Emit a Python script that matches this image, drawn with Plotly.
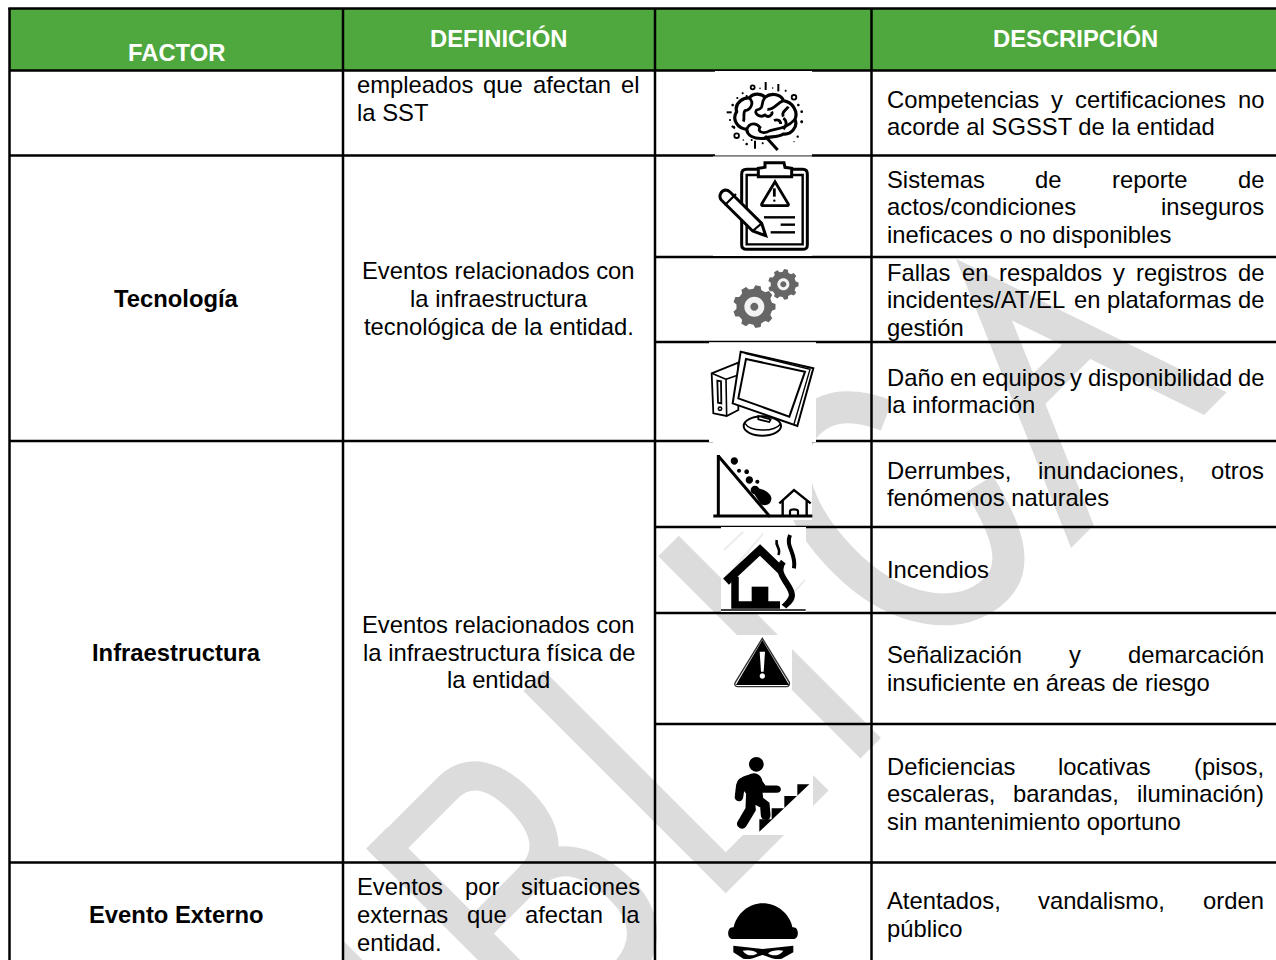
import math, re, unicodedata
import plotly.graph_objects as go

# ---------- table content ----------
HEADERS = ["FACTOR", "DEFINICIÓN", "DESCRIPCIÓN"]
FACTORS = ["Tecnología", "Infraestructura", "Evento Externo"]
DEF_CONT = ["empleados que afectan el", "la SST"]
DEF_TEC = ["Eventos relacionados con", "la infraestructura", "tecnológica de la entidad."]
DEF_INF = ["Eventos relacionados con", "la infraestructura física de", "la entidad"]
DEF_EXT = ["Eventos por situaciones", "externas que afectan la", "entidad."]
DESCRIPTIONS = [
    ["Competencias y certificaciones no", "acorde al SGSST de la entidad"],
    ["Sistemas de reporte de", "actos/condiciones inseguros", "ineficaces o no disponibles"],
    ["Fallas en respaldos y registros de", "incidentes/AT/EL en plataformas de", "gestión"],
    ["Daño en equipos y disponibilidad de", "la información"],
    ["Derrumbes, inundaciones, otros", "fenómenos naturales"],
    ["Incendios"],
    ["Señalización y demarcación", "insuficiente en áreas de riesgo"],
    ["Deficiencias locativas (pisos,", "escaleras, barandas, iluminación)", "sin mantenimiento oportuno"],
    ["Atentados, vandalismo, orden", "público"],
]

# ---------- layout constants ----------
W, H = 1276, 960
COLS = [9.5, 343, 655, 871.5]
ROWS_ALL = [70.5, 155.5, 441, 862.5]
ROWS_RIGHT = [257, 342, 527, 613, 724]
FS = 23.8
FONT = "Liberation Sans"
GREEN = "#4fa83d"
WM = "#dcdcdc"
DESC_Y = [[100, 127.5], [180, 207.5, 235], [273, 300.5, 328], [378, 405.5], [471, 498.5],
          [570], [655.5, 683], [767, 794.5, 822], [901, 929]]

shapes, notes = [], []

def add_path(d, color=None, fill=None, width=0):
    shapes.append(dict(type="path", path=d, xref="x", yref="y",
                       line=dict(color=color or "rgba(0,0,0,0)", width=width),
                       fillcolor=fill or "rgba(0,0,0,0)"))

def rect(x0, y0, x1, y1, fill):
    shapes.append(dict(type="rect", x0=x0, y0=y0, x1=x1, y1=y1, xref="x", yref="y",
                       line=dict(width=0), fillcolor=fill))

def hline(x0, x1, y, w=2.5):
    shapes.append(dict(type="line", x0=x0, x1=x1, y0=y, y1=y, xref="x", yref="y",
                       line=dict(color="black", width=w)))

def vline(x, y0, y1, w=2.5):
    shapes.append(dict(type="line", x0=x, x1=x, y0=y0, y1=y1, xref="x", yref="y",
                       line=dict(color="black", width=w)))

# ---------- watermark, in rotated letter coordinates (s along baseline, h above it) ----------
R2 = math.sqrt(2)
def wm(s, h):
    return (1619 - h * R2 + s * R2) / 2, (1619 - h * R2 - s * R2) / 2

def wm_path(txt):
    toks = re.findall(r"[MLCZ]|-?[\d.]+", txt)
    out, i = [], 0
    while i < len(toks):
        t = toks[i]
        if t in "MLCZ":
            out.append(t); i += 1
        else:
            x, y = wm(float(toks[i]), float(toks[i + 1]))
            out.append(f"{x:.1f},{y:.1f}"); i += 2
    return " ".join(out)

# stub of the letter before B
add_path(wm_path("M-437 286 L-437 0"), WM, width=29)
# B
add_path(wm_path("M-326 0 L-326 286"), WM, width=30)
add_path(wm_path("M-341 271 L-240 271 C-210 271 -198 245 -198 212 C-198 175 -212 150 -245 150 L-326 150"), WM, width=29)
add_path(wm_path("M-245 150 C-205 150 -190 115 -190 75 C-190 38 -212 15 -250 15 L-341 15"), WM, width=30)
# L
add_path(wm_path("M-104 286 L-104 14.5 L27 14.5"), WM, width=29)
# I
add_path(wm_path("M86.6 0 L86.6 286"), WM, width=29)
# C
add_path(wm_path("M333 224 C318 258 298 274 272 274 C228 274 200 220 200 150 C200 75 240 24 288 24 C322 24 338 60 350 110"), WM, width=32)
# A
add_path(wm_path("M370 0 L493 286 L590 0 L558 0 L517 120 L453.6 120 L402 0 Z M466.5 150 L489 202.6 L507 150 Z"), fill=WM)
# first column stays clean
rect(0, 70, COLS[1], H, "white")

# ---------- header ----------
rect(COLS[0], 8, W, 70.5, GREEN)

# ---------- icon masks over the table ----------
def icon_boxes():
    for b in [(715, 71, 812, 155.5), (713, 156.5, 812, 256), (709, 342, 816, 441.9), (713, 441, 812, 520),
              (721, 527, 806, 612), (735, 635, 792, 689), (733, 757, 813, 835)]:
        rect(*b, "white")

# ---------- grid ----------
hline(COLS[0] - 1.2, W, 8.5)
for x in COLS:
    vline(x, 8, H)
for y in ROWS_ALL:
    hline(COLS[0], W, y)
for y in ROWS_RIGHT:
    hline(COLS[2], W, y)
icon_boxes()
# thin remains of the lines on the edge of pasted icons
hline(709, 816, 341.7, 1)

# ---------- icons, drawn in crop coordinates ----------
def tp(d, ox, oy, k=1 / 3):
    toks = re.findall(r"[MLCQZ]|-?[\d.]+", d)
    out, i = [], 0
    while i < len(toks):
        t = toks[i]
        if t in "MLCQZ":
            out.append(t); i += 1
        else:
            out.append(f"{ox + float(toks[i]) * k:.2f},{oy + float(toks[i + 1]) * k:.2f}"); i += 2
    return " ".join(out)

def circ(cx, cy, r, ry=None):
    ry = r if ry is None else ry
    c = 0.5523
    return (f"M{cx - r} {cy} C{cx - r} {cy - c * ry} {cx - c * r} {cy - ry} {cx} {cy - ry} "
            f"C{cx + c * r} {cy - ry} {cx + r} {cy - c * ry} {cx + r} {cy} "
            f"C{cx + r} {cy + c * ry} {cx + c * r} {cy + ry} {cx} {cy + ry} "
            f"C{cx - c * r} {cy + ry} {cx - r} {cy + c * ry} {cx - r} {cy} Z")

O2 = (650, 60)
O3 = (650, 440)
def i2(d, color="black", fill=None, w=0): add_path(tp(d, *O2), color if w else None, fill, w)
def i3(d, color="black", fill=None, w=0): add_path(tp(d, *O3), color if w else None, fill, w)

# brain
i2("M345 235 C310 238 292 226 290 208 C262 205 245 178 260 155 C252 128 282 112 298 114 C310 98 335 100 345 112 C365 96 395 104 400 122 C428 126 445 155 435 178 C445 202 422 225 400 222 C380 234 360 228 345 235 Z", w=3.2)
for seg in ["M345 112 C330 130 345 145 320 150 C310 160 330 175 345 165 C355 175 370 165 365 155",
            "M298 114 C315 130 300 150 285 152 C278 160 285 175 280 185",
            "M400 122 C380 130 372 150 352 148 M400 170 C392 155 410 150 415 140",
            "M290 208 C300 185 320 190 330 202 C320 218 345 222 360 212 C385 205 410 205 435 178",
            "M400 175 C412 182 410 198 400 208 M372 182 C382 176 392 182 392 192"]:
    i2(seg, w=2.8)
i2("M345 228 L383 270", w=3)
for cx, cy, r in [(290, 108, 3), (278, 100, 3), (262, 114, 3), (248, 135, 4), (455, 155, 4), (455, 185, 4.5),
                  (445, 135, 4), (443, 230, 3.5), (290, 252, 4), (338, 250, 3), (240, 180, 3), (407, 92, 3),
                  (368, 84, 2.5), (330, 85, 2.5), (252, 200, 3), (305, 240, 3), (280, 240, 2.5), (432, 245, 2)]:
    i2(circ(cx, cy, r), fill="black")
for cx, cy, r in [(308, 82, 6), (432, 112, 7), (260, 227, 7)]:
    i2(circ(cx, cy, r), w=1.8)
for d in ["M347 66 L347 90", "M385 72 L385 94", "M315 242 L315 266", "M230 157 L245 157", "M245 198 L255 205"]:
    i2(d, w=2)

# clipboard
i2("M290 328 L458 328 C468 328 472 332 472 342 L472 555 C472 565 468 568 458 568 L290 568 C280 568 275 565 275 555 L275 342 C275 332 280 328 290 328 Z", w=3)
i2("M290 345 L458 345 L458 553 L290 553 Z", w=2.4)
i2("M325 350 L325 325 L345 322 L345 308 L402 308 L405 322 L425 325 L425 350 Z", fill="white", w=3)
i2("M375 365 L415 432 C416 436 414 437 410 437 L340 437 C336 437 334 436 335 432 Z", w=2.8)
i2("M373 385 L373 410", w=2.8)
i2(circ(373, 422, 3.5), fill="black")
for d in ["M342 472 L435 472", "M392 494 L435 494", "M362 517 L435 517"]:
    i2(d, w=2.4)
i2("M240 396 L335 490 L347 527 L308 513 L214 420 C205 410 212 392 226 390 C232 390 236 392 240 396 Z", fill="white", w=3)
i2("M224 436 L258 402", w=2.2)
i2("M308 513 L335 490", w=2.2)

# gears
def gear(cx, cy, ro, ri, n):
    pts = []
    for t in range(n):
        a = 2 * math.pi * t / n
        step = 2 * math.pi / n
        for f, r in [(-0.32, ri), (-0.18, ro), (0.18, ro), (0.32, ri)]:
            pts.append((cx + r * math.cos(a + f * step), cy + r * math.sin(a + f * step)))
    return "M" + " L".join(f"{x:.1f} {y:.1f}" for x, y in pts) + " Z"
GREY = "#666666"
i2(gear(313, 740, 64, 54, 9), fill=GREY)
i2(circ(313, 740, 30), fill="#f2f2f2")
i2(circ(313, 740, 12), fill=GREY)
i2(gear(400, 673, 46, 38, 9), fill=GREY)
i2(circ(400, 673, 18), fill="#f2f2f2")
i2(circ(400, 673, 9), fill=GREY)

# monitor
i2("M185 940 L265 908 L265 1050 L230 1068 L190 1060 Z", fill="white", w=1.8)
i2("M185 940 L228 958 L230 1068", w=1.6)
i2("M228 958 L265 945", w=1.6)
i2("M202 962 L213 964 L214 1030 L204 1028 Z", w=1.8)
i2(circ(210, 1046, 5), w=1.6)
i2(circ(337, 1098, 56, 29), fill="white", w=2)
i2("M285 1090 C300 1115 370 1118 392 1092", w=1.4)
i2("M325 1068 L362 1078 L358 1086 L325 1078 Z", fill="white", w=1.8)
i2("M272 875 L490 925 L442 1098 L248 1030 Z", fill="white", w=2)
i2("M284 880 L480 928 L432 1092", w=1.4)
i2("M288 897 L465 935 L418 1070 L265 1015 Z", w=2)

# landslide
i3("M205 45 L205 228", w=3)
i3("M205 48 L360 230", w=3)
i3("M190 228 L487 228", w=3)
for cx, cy, r in [(253, 63, 11), (267, 92, 6), (290, 95, 7), (298, 120, 11), (322, 125, 6), (315, 150, 13)]:
    i3(circ(cx, cy, r), fill="black")
i3("M305 150 C330 135 368 160 364 178 C362 198 340 198 332 192 Z", fill="black")
i3("M388 190 L432 150 L482 190", w=2.4)
i3("M398 183 L398 228", w=2.4)
i3("M470 183 L470 228", w=2.4)
i3("M420 228 L420 214 C420 206 444 206 444 214 L444 228", w=2.2)

# fire
for d in ["M222 330 L280 275", "M222 420 L340 280", "M410 480 L465 420"]:
    i3(d, color="#ececec", w=2)
i3("M228 425 L330 330 L392 390", w=8.5)
i3("M255 410 L255 495 L390 495", w=7.5)
i3("M305 440 L355 440 L355 495 L305 495 Z", fill="black")
i3("M213 510 L467 510", w=1.6)
i3("M400 365 C372 400 420 430 425 460 C430 480 410 490 402 500", w=6)
i3("M420 285 C405 320 440 340 432 385", w=4)
i3("M380 300 C375 320 395 325 385 345", w=2.6)

# warning sign
i3("M337 595 L418 727 C420 735 414 740 410 740 L262 740 C256 740 252 733 256 727 Z", fill="white", w=1.4, color="#333333")
i3("M337 606 L412 732 L263 732 Z", fill="black", w=2)
i3("M329 635 L345 635 L341 695 L333 695 Z", fill="white")
i3(circ(337, 708, 8), fill="white")

# person on stairs
i3(circ(319, 973, 22), fill="black")
i3("M296 1008 C315 998 330 1005 334 1025 L345 1040 L380 1040 C392 1042 392 1054 380 1055 L340 1055 L332 1040 L336 1075 L355 1090 L358 1125 C358 1140 338 1140 336 1125 L334 1100 L312 1088 L314 1110 L285 1158 C276 1168 260 1158 266 1146 L290 1105 L292 1060 L280 1045 L276 1072 C272 1085 256 1080 258 1068 L262 1035 C264 1020 280 1012 296 1008 Z", fill="black", w=2.4)
i3("M328 1175 L328 1138 L365 1138 L365 1105 L403 1105 L403 1068 L442 1068 L442 1033 L478 1033 Z", fill="black")

# masked head
i3("M250 1466 C258 1420 298 1390 338 1390 C380 1390 420 1420 428 1466 Z", fill="black")
i3("M248 1462 L430 1462 C448 1462 448 1497 430 1497 L248 1497 C230 1497 230 1462 248 1462 Z", fill="black")
i3("M250 1517 L338 1527 L430 1517 L430 1537 L395 1556 C370 1562 345 1545 338 1545 C330 1545 305 1562 280 1556 L250 1537 Z", fill="black")
i3("M278 1532 C295 1528 315 1532 322 1540 C310 1550 288 1548 278 1532 Z", fill="white")
i3("M400 1532 C385 1528 362 1532 354 1540 C366 1550 390 1548 400 1532 Z", fill="white")

# ---------- text ----------
AFM = dict(zip("abcdefghijklmnopqrstuvwxyz",
               [556, 556, 500, 556, 556, 278, 556, 556, 222, 222, 500, 222, 833, 556, 556, 556, 556, 333, 500, 278, 556, 500, 722, 500, 500, 500]))
AFM.update(dict(zip("ABCDEFGHIJKLMNOPQRSTUVWXYZ",
                    [667, 667, 722, 722, 667, 611, 778, 722, 278, 500, 667, 556, 833, 722, 778, 667, 778, 722, 667, 611, 722, 667, 944, 667, 667, 611])))
AFM.update({",": 278, ".": 278, "/": 278, "(": 333, ")": 333, " ": 278})

def tw(txt):
    base = unicodedata.normalize("NFD", txt)
    return sum(AFM.get(c, 0) for c in base) * FS / 1000

def put(txt, x, y, anchor="left", color="black", bold=False):
    notes.append(dict(text=f"<b>{txt}</b>" if bold else txt, x=x, y=y - 1, xref="x", yref="y", xanchor=anchor, yanchor="middle",
                      showarrow=False, borderpad=0, borderwidth=0,
                      font=dict(family=FONT, size=FS, color=color)))

def justified(line, x0, x1, y):
    words = line.split()
    if len(words) == 1:
        put(line, x0, y); return
    widths = [tw(w) for w in words]
    gap = (x1 - x0 - sum(widths)) / (len(words) - 1)
    x = x0
    for i, (w, wd) in enumerate(zip(words, widths)):
        if i == 0:
            put(w, x0, y)
        elif i == len(words) - 1:
            put(w, x1, y, "right")
        else:
            put(w, x + wd / 2, y, "center")
        x += wd + gap

def paragraph(lines, x0, x1, ys):
    for i, (l, y) in enumerate(zip(lines, ys)):
        if i < len(lines) - 1:
            justified(l, x0, x1, y)
        else:
            put(l, x0, y)

put(HEADERS[0], 176.5, 53.5, "center", "white", True)
put(HEADERS[1], 498.5, 39.5, "center", "white", True)
put(HEADERS[2], 1075, 39.5, "center", "white", True)
for f, y in zip(FACTORS, [299, 653, 915]):
    put(f, 176.5, y, "center", bold=True)

paragraph(DEF_CONT, 357, 640, [85.5, 113])
for line, y in zip(DEF_TEC, [271, 299, 327]):
    put(line, 498.5, y, "center")
for line, y in zip(DEF_INF, [625, 653, 680]):
    put(line, 498.5, y, "center")
paragraph(DEF_EXT, 357, 640, [887, 915, 943])
for lines, ys in zip(DESCRIPTIONS, DESC_Y):
    paragraph(lines, 887, 1264, ys)

# ---------- figure ----------
fig = go.Figure()
fig.update_layout(width=W, height=H, margin=dict(l=0, r=0, t=0, b=0), autosize=False,
                  paper_bgcolor="white", plot_bgcolor="white", showlegend=False,
                  xaxis=dict(range=[0, W], visible=False, fixedrange=True),
                  yaxis=dict(range=[H, 0], visible=False, fixedrange=True),
                  shapes=shapes, annotations=notes)
fig.write_html("out.html", config=dict(displayModeBar=False),
               post_script="document.body.style.margin='0';document.documentElement.style.overflow='hidden';")
